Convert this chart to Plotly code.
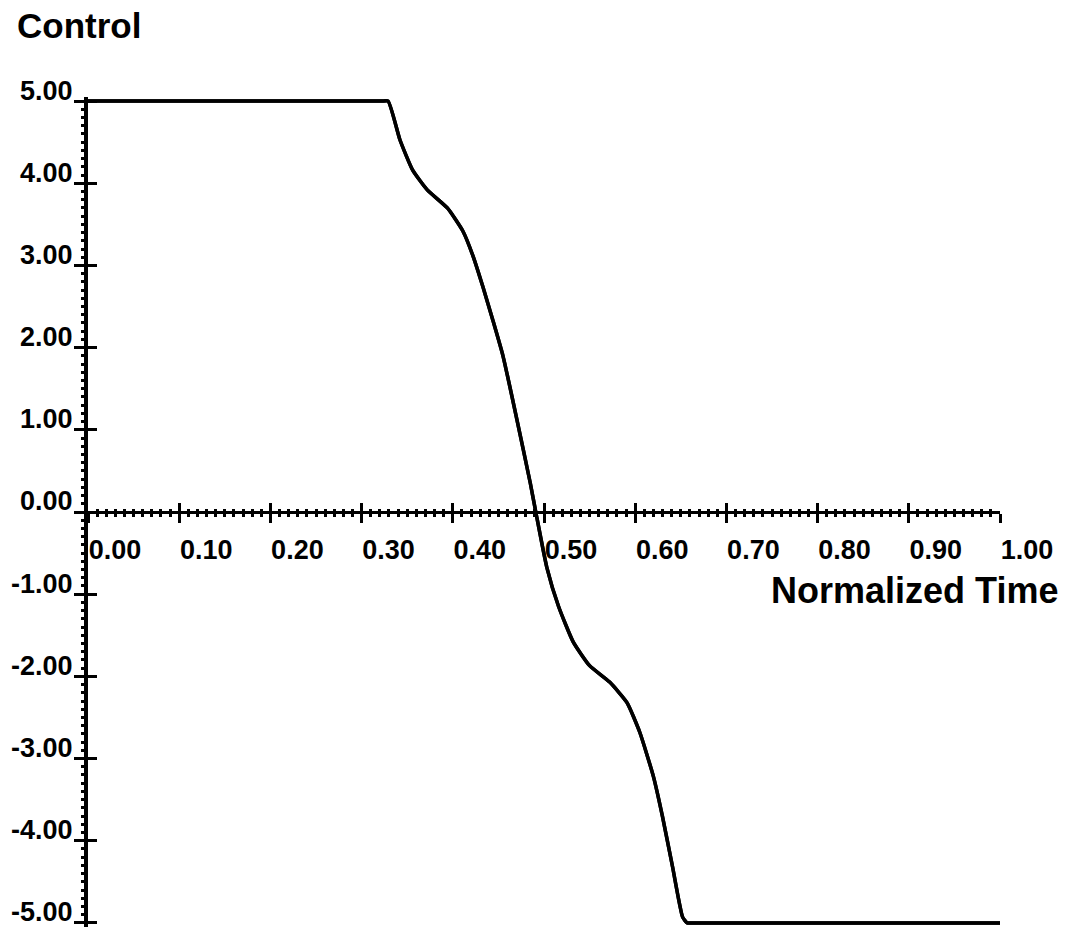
import plotly.graph_objects as go

# ---- data ----
time_vals = [0.0, 0.10, 0.20, 0.30, 0.322, 0.329, 0.342, 0.356, 0.372, 0.394, 0.411, 0.422, 0.433, 0.444,
             0.455, 0.470, 0.485, 0.491, 0.503, 0.516, 0.532, 0.550, 0.572, 0.591,
             0.605, 0.620, 0.630, 0.641, 0.652, 0.657, 0.665, 0.70, 0.80, 0.90, 1.0]
control_vals = [5.0, 5.0, 5.0, 5.0, 5.0, 5.0, 4.53, 4.16, 3.92, 3.70, 3.42, 3.12, 2.74, 2.33,
                1.90, 1.14, 0.35, 0.0, -0.67, -1.15, -1.58, -1.87, -2.07, -2.32,
                -2.68, -3.22, -3.71, -4.32, -4.93, -5.0, -5.0, -5.0, -5.0, -5.0, -5.0]

x_tick_vals = [0.0, 0.1, 0.2, 0.3, 0.4, 0.5, 0.6, 0.7, 0.8, 0.9, 1.0]
x_tick_text = ["0.00", "0.10", "0.20", "0.30", "0.40", "0.50", "0.60", "0.70", "0.80", "0.90", "1.00"]
y_tick_vals = [5, 4, 3, 2, 1, 0, -1, -2, -3, -4, -5]
y_tick_text = ["5.00", "4.00", "3.00", "2.00", "1.00", "0.00", "-1.00", "-2.00", "-3.00", "-4.00", "-5.00"]

title_text = "Control"
x_title_text = "Normalized Time"

FONT = "Liberation Sans, Arial, Helvetica, sans-serif"
tickfont = dict(family=FONT, size=27, color="black", weight=700)

fig = go.Figure()
line_style = dict(color="black", width=3.5, shape="spline", smoothing=0.5)
fig.add_trace(go.Scatter(x=time_vals, y=control_vals, mode="lines",
                         line=line_style, xaxis="x", yaxis="y",
                         showlegend=False, hoverinfo="skip"))
# same curve on the overlay axes so that they are drawn (inner tick marks)
fig.add_trace(go.Scatter(x=time_vals, y=control_vals, mode="lines",
                         line=line_style, xaxis="x2", yaxis="y2",
                         showlegend=False, hoverinfo="skip"))

YR = [-5.05, 5.05]
fig.update_layout(
    width=1071, height=930,
    margin=dict(l=88, r=71, t=97, b=3, pad=0),
    paper_bgcolor="white", plot_bgcolor="white",
    showlegend=False,
    xaxis=dict(range=[0, 1], anchor="free", position=0.5,
               showline=True, linecolor="black", linewidth=3,
               showgrid=False, zeroline=False,
               ticks="outside", ticklen=9, tickwidth=2.5, tickcolor="black",
               tickvals=x_tick_vals, ticktext=x_tick_text, tickfont=tickfont,
               ticklabelshift=27, ticklabelstandoff=4, ticklabeloverflow="allow",
               minor=dict(dtick=0.01, tick0=0, ticks="outside", ticklen=3,
                          tickwidth=2.8, tickcolor="black", showgrid=False)),
    xaxis2=dict(range=[0, 1], overlaying="x", anchor="free", position=0.5,
                showline=False, showgrid=False, zeroline=False,
                ticks="inside", ticklen=9, tickwidth=2.5, tickcolor="black",
                tickvals=x_tick_vals, showticklabels=False,
                minor=dict(dtick=0.01, tick0=0, ticks="inside", ticklen=3,
                           tickwidth=2.8, tickcolor="black", showgrid=False)),
    yaxis=dict(range=YR, anchor="x", side="left",
               showline=True, linecolor="black", linewidth=4,
               showgrid=False, zeroline=False,
               ticks="outside", ticklen=10, tickwidth=2.5, tickcolor="black",
               tickvals=y_tick_vals, ticktext=y_tick_text, tickfont=tickfont,
               ticklabelshift=-11, ticklabelstandoff=-4, ticklabeloverflow="allow",
               minor=dict(dtick=0.1, tick0=0, ticks="outside", ticklen=3,
                          tickwidth=2.8, tickcolor="black", showgrid=False)),
    yaxis2=dict(range=YR, overlaying="y", anchor="x2", side="left",
                showline=False, showgrid=False, zeroline=False,
                ticks="inside", ticklen=9, tickwidth=2.5, tickcolor="black",
                tickvals=y_tick_vals, showticklabels=False),
    annotations=[
        dict(text=title_text, xref="paper", yref="paper",
             x=(15 - 88) / 912, y=(930 - 3 - 26) / 830, xanchor="left", yanchor="middle",
             showarrow=False, font=dict(family=FONT, size=35, color="black", weight=700)),
        dict(text=x_title_text, xref="paper", yref="paper",
             x=(1060 - 88) / 912, y=(930 - 3 - 590) / 830, xanchor="right", yanchor="middle",
             showarrow=False, font=dict(family=FONT, size=36, color="black", weight=700)),
    ],
)

fig.write_html("out.html")
